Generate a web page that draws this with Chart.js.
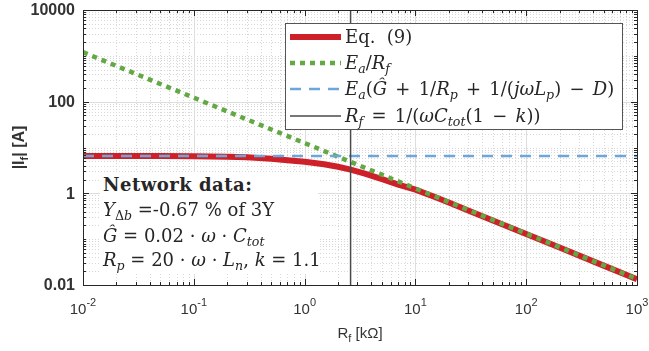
<!DOCTYPE html>
<html>
<head>
<meta charset="utf-8">
<script src="https://cdn.jsdelivr.net/npm/chart.js@4/dist/chart.umd.min.js"></script>
<style>
  body { margin: 0; background: #fff; }
  #wrap { position: relative; width: 649px; height: 351px; }
  .tx { position: absolute; font-family: "DejaVu Serif", serif; font-size: 18px; line-height: 22px; color: #262626; white-space: nowrap; }
  .tx sub { font-size: 70%; vertical-align: -0.3em; line-height: 0; }
  .tx .op { margin: 0 2.5px; }
  #note { position: absolute; left: 100px; top: 172px; width: 218px; height: 102px; background: #fff; }
</style>
</head>
<body>
<div id="wrap">
  <canvas id="chart" width="649" height="351"></canvas>
  <div id="note"></div>
  <div class="tx" style="left:345px;top:26px">Eq.&nbsp; (9)</div>
  <div class="tx" style="left:345px;top:52px"><i>E<sub>a</sub></i>/<i>R<sub>f</sub></i></div>
  <div class="tx" style="left:345px;top:78px"><i>E<sub>a</sub></i>(<i>Ĝ</i> <span class="op">+</span> 1/<i>R<sub>p</sub></i> <span class="op">+</span> 1/(<i>jωL<sub>p</sub></i>) <span class="op">−</span> <i>D</i>)</div>
  <div class="tx" style="left:345px;top:105px"><i>R<sub>f</sub></i> <span class="op">=</span> 1/(<i>ωC<sub>tot</sub></i>(1 <span class="op">−</span> <i>k</i>))</div>
  <div class="tx" style="left:103px;top:174px;letter-spacing:0.5px"><b>Network data:</b></div>
  <div class="tx" style="left:103px;top:199px"><i>Y</i><sub>Δ<i>b</i></sub> =-0.67 % of 3Y</div>
  <div class="tx" style="left:103px;top:225px"><i>Ĝ</i> = 0.02 · <i>ω</i> · <i>C<sub>tot</sub></i></div>
  <div class="tx" style="left:103px;top:249px"><i>R<sub>p</sub></i> = 20 · <i>ω</i> · <i>L<sub>n</sub></i>, <i>k</i> = 1.1</div>
</div>
<script>
// ------- Data -------
const rfRed = [0.01, 0.02, 0.05, 0.1, 0.2, 0.3, 0.5, 0.7, 1, 1.5, 2, 2.6, 3.5, 5, 7, 10, 15, 20, 30, 50, 100, 200, 500, 1000];
const iRed = [6.5, 6.5, 6.5, 6.45, 6.3, 6.1, 5.7, 5.3, 4.9, 4.3, 3.8, 3.3, 2.7, 2.05, 1.55, 1.2, 0.83, 0.63, 0.42, 0.255, 0.13, 0.066, 0.0265, 0.0133];
const rfGreen = [0.01, 0.1, 1, 10, 100, 1000];
const iGreen = [1200, 122, 12.5, 1.28, 0.132, 0.0135];
const rfBlue = [0.01, 1000];
const iBlue = [6.5, 6.5];
const rfBlack = [2.6, 2.6];
const iBlack = [0.01, 10000];
const xTicks = [0.01, 0.1, 1, 10, 100, 1000];
const xTickExp = ["-2", "-1", "0", "1", "2", "3"];
const yTicks = [0.01, 1, 100, 10000];
const yTickLabels = ["0.01", "1", "100", "10000"];

function pts(xs, ys) {
  return xs.map((x, i) => ({ x: x, y: ys[i] }));
}

const AX = "#262626";

// ------- grid, axes box, ticks -------
const axesPlugin = {
  id: "axes",
  beforeDatasetsDraw(chart) {
    let ctx = chart.ctx, a = chart.chartArea;
    let xs = chart.scales.x, ys = chart.scales.y;
    ctx.save();
    ctx.lineWidth = 1;
    // minor grid (dotted)
    ctx.strokeStyle = "#d8d8d8";
    ctx.setLineDash([1, 2]);
    for (let e = -2; e < 3; e++) {
      for (let m = 2; m <= 9; m++) {
        let px = Math.round(xs.getPixelForValue(m * Math.pow(10, e))) + 0.5;
        ctx.beginPath(); ctx.moveTo(px, a.top); ctx.lineTo(px, a.bottom); ctx.stroke();
      }
    }
    for (let e = -2; e < 4; e++) {
      for (let m = 1; m <= 9; m++) {
        if (m === 1 && e % 2 === 0) continue;
        let py = Math.round(ys.getPixelForValue(m * Math.pow(10, e))) + 0.5;
        ctx.beginPath(); ctx.moveTo(a.left, py); ctx.lineTo(a.right, py); ctx.stroke();
      }
    }
    // major grid
    ctx.setLineDash([]);
    ctx.strokeStyle = "#dedede";
    xTicks.forEach((v) => {
      let px = Math.round(xs.getPixelForValue(v)) + 0.5;
      ctx.beginPath(); ctx.moveTo(px, a.top); ctx.lineTo(px, a.bottom); ctx.stroke();
    });
    yTicks.forEach((v) => {
      let py = Math.round(ys.getPixelForValue(v)) + 0.5;
      ctx.beginPath(); ctx.moveTo(a.left, py); ctx.lineTo(a.right, py); ctx.stroke();
    });
    ctx.restore();
  },
  afterDraw(chart) {
    let ctx = chart.ctx, a = chart.chartArea;
    let xs = chart.scales.x, ys = chart.scales.y;
    ctx.save();
    ctx.strokeStyle = AX;
    ctx.lineWidth = 1;
    ctx.strokeRect(Math.round(a.left) + 0.5, Math.round(a.top) + 0.5, Math.round(a.right - a.left), Math.round(a.bottom - a.top));
    // tick marks inside, all four sides
    function xTick(v, len) {
      let px = Math.round(xs.getPixelForValue(v)) + 0.5;
      ctx.beginPath();
      ctx.moveTo(px, a.bottom); ctx.lineTo(px, a.bottom - len);
      ctx.moveTo(px, a.top); ctx.lineTo(px, a.top + len);
      ctx.stroke();
    }
    function yTick(v, len) {
      let py = Math.round(ys.getPixelForValue(v)) + 0.5;
      ctx.beginPath();
      ctx.moveTo(a.left, py); ctx.lineTo(a.left + len, py);
      ctx.moveTo(a.right, py); ctx.lineTo(a.right - len, py);
      ctx.stroke();
    }
    for (let e = -2; e < 3; e++) {
      for (let m = 2; m <= 9; m++) xTick(m * Math.pow(10, e), 3);
    }
    xTicks.forEach((v) => xTick(v, 6));
    for (let e = -2; e < 4; e++) {
      for (let m = 1; m <= 9; m++) yTick(m * Math.pow(10, e), 3);
    }
    yTicks.forEach((v) => yTick(v, 6));

    // y tick labels
    ctx.fillStyle = "#333";
    ctx.font = "bold 16px 'Liberation Sans', Arial, sans-serif";
    ctx.textAlign = "right";
    ctx.textBaseline = "middle";
    yTicks.forEach((v, i) => {
      ctx.fillText(yTickLabels[i], a.left - 8, ys.getPixelForValue(v) + 1);
    });

    // x tick labels 10^n
    ctx.textBaseline = "alphabetic";
    xTicks.forEach((v, i) => {
      let px = xs.getPixelForValue(v);
      ctx.font = "15px 'Liberation Sans', Arial, sans-serif";
      let w1 = ctx.measureText("10").width;
      ctx.font = "11px 'Liberation Sans', Arial, sans-serif";
      let w2 = ctx.measureText(xTickExp[i]).width;
      let x0 = px - (w1 + w2) / 2;
      ctx.textAlign = "left";
      ctx.font = "15px 'Liberation Sans', Arial, sans-serif";
      ctx.fillText("10", x0, 314);
      ctx.font = "11px 'Liberation Sans', Arial, sans-serif";
      ctx.fillText(xTickExp[i], x0 + w1, 306);
    });

    // x title
    ctx.font = "15px 'Liberation Sans', Arial, sans-serif";
    let t1 = "R", t2 = "f", t3 = " [k\u03A9]";
    let w1 = ctx.measureText(t1).width, w3 = ctx.measureText(t3).width;
    ctx.font = "11px 'Liberation Sans', Arial, sans-serif";
    let w2 = ctx.measureText(t2).width;
    let cx = (a.left + a.right) / 2;
    let x0 = cx - (w1 + w2 + w3) / 2;
    ctx.font = "15px 'Liberation Sans', Arial, sans-serif";
    ctx.fillText(t1, x0, 338);
    ctx.fillText(t3, x0 + w1 + w2, 338);
    ctx.font = "11px 'Liberation Sans', Arial, sans-serif";
    ctx.fillText(t2, x0 + w1, 342);

    // y title (rotated)
    ctx.translate(24, (a.top + a.bottom) / 2);
    ctx.rotate(-Math.PI / 2);
    ctx.font = "bold 16px 'Liberation Sans', Arial, sans-serif";
    let s1 = "|I", s3 = "| [A]";
    let v1 = ctx.measureText(s1).width, v3 = ctx.measureText(s3).width;
    ctx.font = "bold 11px 'Liberation Sans', Arial, sans-serif";
    let v2 = ctx.measureText("f").width;
    let y0 = -(v1 + v2 + v3) / 2;
    ctx.font = "bold 16px 'Liberation Sans', Arial, sans-serif";
    ctx.fillText(s1, y0, 0);
    ctx.fillText(s3, y0 + v1 + v2, 0);
    ctx.font = "bold 11px 'Liberation Sans', Arial, sans-serif";
    ctx.fillText("f", y0 + v1, 4);
    ctx.restore();

    // legend box + line samples
    ctx.save();
    ctx.fillStyle = "#fff";
    ctx.fillRect(285.5, 23.5, 337, 106);
    ctx.strokeStyle = "#555";
    ctx.lineWidth = 1;
    ctx.strokeRect(285.5, 23.5, 337, 106);
    let rows = [37, 63, 89, 116];
    chart.data.datasets.forEach((ds, i) => {
      ctx.beginPath();
      ctx.strokeStyle = ds.borderColor;
      ctx.lineWidth = ds.borderWidth;
      ctx.setLineDash(ds.borderDash || []);
      ctx.moveTo(290, rows[i]); ctx.lineTo(341, rows[i]);
      ctx.stroke();
    });
    ctx.restore();
  },
};

new Chart("chart", {
  type: "line",
  data: {
    datasets: [
      {
        label: "Eq. (9)",
        data: pts(rfRed, iRed),
        borderColor: "#cd2028",
        borderWidth: 6,
        order: 4,
      },
      {
        label: "Ea/Rf",
        data: pts(rfGreen, iGreen),
        borderColor: "#62a843",
        borderWidth: 4.5,
        borderDash: [5, 5],
        order: 3,
      },
      {
        label: "Ea(G+1/Rp+1/(jwLp)-D)",
        data: pts(rfBlue, iBlue),
        borderColor: "#6fa6da",
        borderWidth: 2.5,
        borderDash: [11, 8],
        order: 2,
      },
      {
        label: "Rf = 1/(wCtot(1-k))",
        data: pts(rfBlack, iBlack),
        borderColor: "#4a4a4a",
        borderWidth: 1.5,
        order: 1,
      },
    ],
  },
  options: {
    responsive: false,
    animation: false,
    events: [],
    layout: { padding: { left: 83, right: 12, top: 10, bottom: 66 } },
    elements: { point: { radius: 0 }, line: { tension: 0, borderCapStyle: "butt" } },
    plugins: { legend: { display: false }, tooltip: { enabled: false } },
    scales: {
      x: { type: "logarithmic", min: 0.01, max: 1000, display: false },
      y: { type: "logarithmic", min: 0.01, max: 10000, display: false },
    },
  },
  plugins: [axesPlugin],
});
</script>
</body>
</html>
